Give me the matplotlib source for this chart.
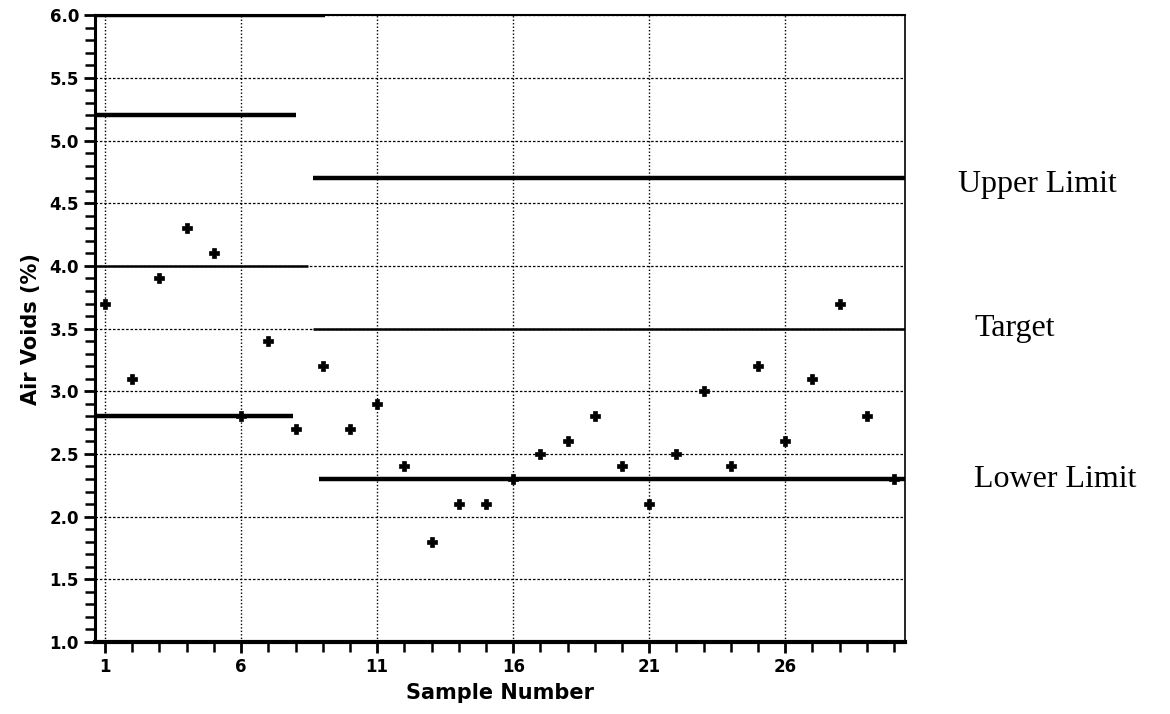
import matplotlib
matplotlib.use("Agg")
import matplotlib.pyplot as plt
from matplotlib.ticker import MultipleLocator

# sample data
samples = list(range(1, 31))
air_voids = [3.7, 3.1, 3.9, 4.3, 4.1, 2.8, 3.4, 2.7, 3.2, 2.7,
             2.9, 2.4, 1.8, 2.1, 2.1, 2.3, 2.5, 2.6, 2.8, 2.4,
             2.1, 2.5, 3.0, 2.4, 3.2, 2.6, 3.1, 3.7, 2.8, 2.3]

# spec lines: (y, x_start, x_end)
x_lo, x_hi = 0.63, 30.4
upper_lines = [(5.2, x_lo, 8.0), (4.7, 8.65, x_hi)]
target_lines = [(4.0, x_lo, 8.45), (3.5, 8.65, x_hi)]
lower_lines = [(2.8, x_lo, 7.9), (2.3, 8.85, x_hi)]
top_line = [(6.0, x_lo, 9.1)]

x_ticks = [1, 6, 11, 16, 21, 26]
labels = ["Upper Limit", "Target", "Lower Limit"]
label_y = [4.65, 3.5, 2.3]
label_dx = [38, 50, 50]

fig = plt.figure(figsize=(11.7, 7.14), dpi=100)
ax = fig.add_axes([0.0812, 0.1008, 0.6923, 0.878])

ax.set_xlim(x_lo, x_hi)
ax.set_ylim(1.0, 6.0)

ax.xaxis.set_major_locator(plt.FixedLocator(x_ticks))
ax.xaxis.set_minor_locator(MultipleLocator(1))
ax.yaxis.set_major_locator(MultipleLocator(0.5))
ax.yaxis.set_minor_locator(MultipleLocator(0.1))
ax.yaxis.set_major_formatter(plt.FormatStrFormatter("%.1f"))

ax.grid(True, axis="x", which="major", linestyle=(0, (1, 1.5)), color="black", linewidth=1.0)
ax.grid(True, axis="y", which="major", linestyle=(0, (2, 1.5)), color="black", linewidth=0.9)

for y, a, b in upper_lines + lower_lines + top_line:
    ax.plot([a, b], [y, y], color="black", linewidth=3.2, solid_capstyle="butt", zorder=3)
for y, a, b in target_lines:
    ax.plot([a, b], [y, y], color="black", linewidth=1.8, solid_capstyle="butt", zorder=3)

ax.plot(samples, air_voids, linestyle="none", marker="P", markersize=7.5,
        color="black", markeredgewidth=0.5, zorder=4)

ax.tick_params(axis="both", which="major", direction="out", length=8, width=2,
               labelsize=12)
ax.tick_params(axis="both", which="minor", direction="out", length=7, width=1.8)
for lab in ax.get_xticklabels() + ax.get_yticklabels():
    lab.set_fontweight("heavy")

ax.spines["left"].set_linewidth(2.2)
ax.spines["bottom"].set_linewidth(3)
ax.spines["top"].set_linewidth(1.5)
ax.spines["right"].set_linewidth(1.2)

ax.set_xlabel("Sample Number", fontsize=15, fontweight="bold", labelpad=5)
ax.set_ylabel("Air Voids (%)", fontsize=15, fontweight="bold", labelpad=6)

for txt, y, dx in zip(labels, label_y, label_dx):
    ax.annotate(txt, xy=(1.0, y), xycoords=("axes fraction", "data"),
                xytext=(dx, 0), textcoords="offset points",
                fontsize=23, family="Liberation Serif", va="center", ha="left")

fig.savefig("out.png", dpi=100)
